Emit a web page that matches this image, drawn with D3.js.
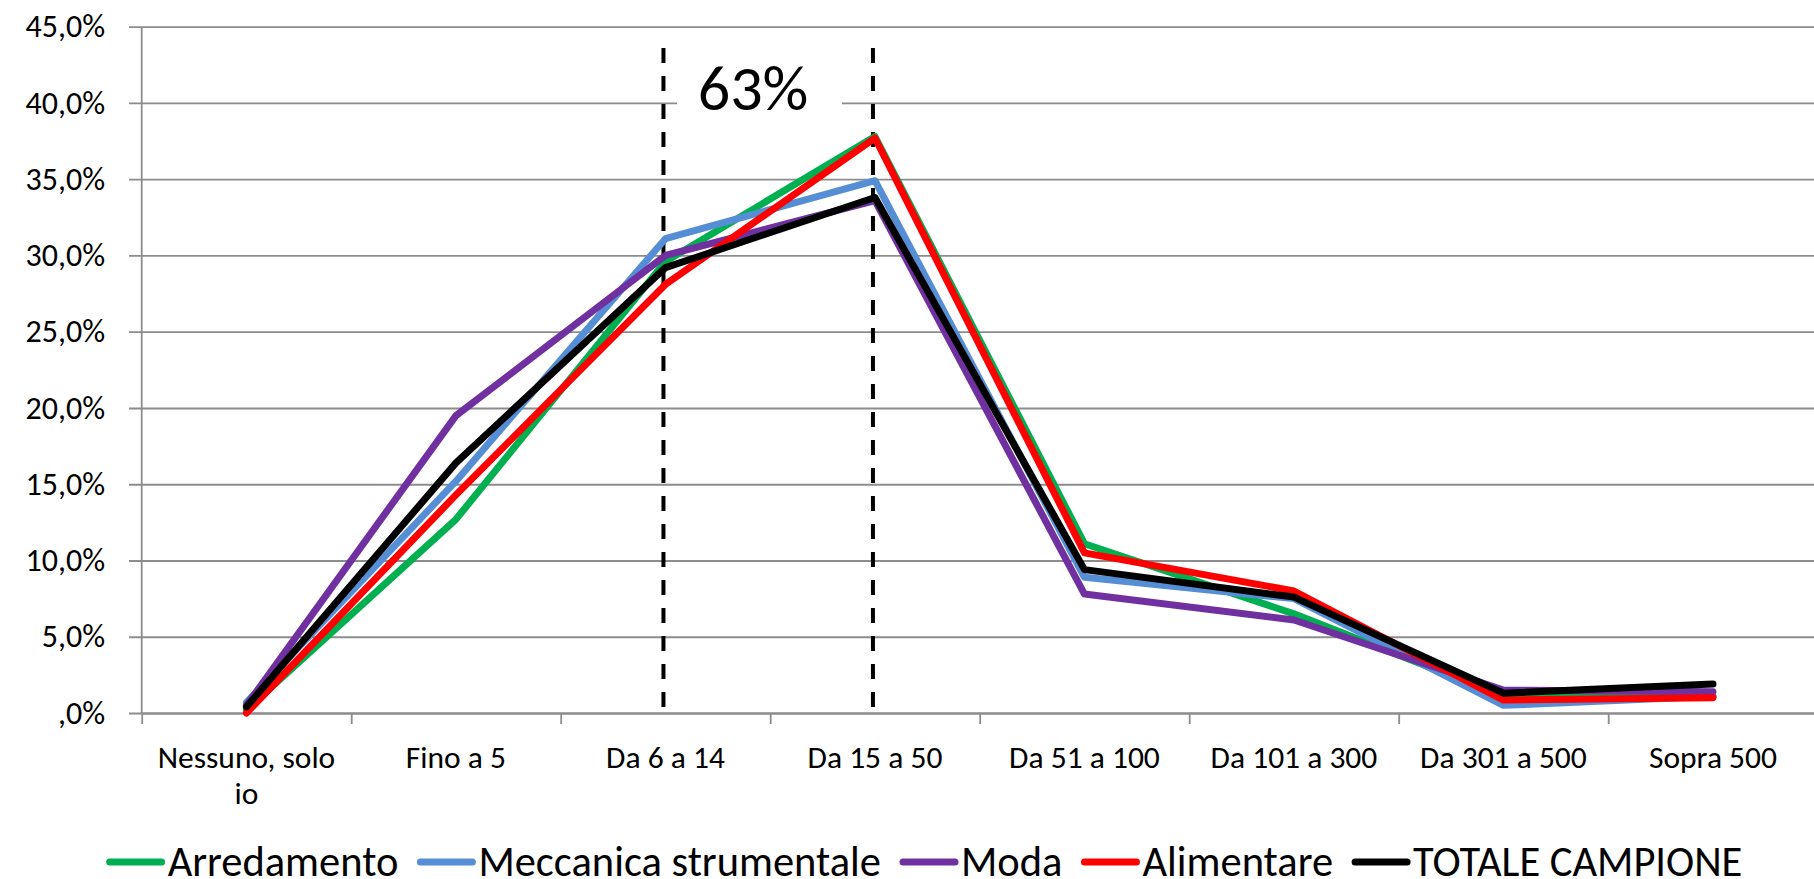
<!DOCTYPE html>
<html>
<head>
<meta charset="utf-8">
<script src="https://cdn.jsdelivr.net/npm/d3@7"></script>
<style>
  body { margin: 0; background: #fff; }
  svg text { font-family: Carlito, Lato, "Open Sans", sans-serif; fill: #000; }
</style>
</head>
<body>
<div id="chart"></div>
<script>
// categories (number of employees) and series values, in %
const categories = ["Nessuno, solo io", "Fino a 5", "Da 6 a 14", "Da 15 a 50",
  "Da 51 a 100", "Da 101 a 300", "Da 301 a 500", "Sopra 500"];

const arredamento = [0.2, 12.7, 29.6, 37.8, 11.1, 6.5, 1.1, 1.1];
const meccanica   = [0.7, 15.2, 31.1, 34.9, 8.9, 7.5, 0.5, 1.1];
const moda        = [0.5, 19.5, 30.0, 33.6, 7.8, 6.1, 1.5, 1.4];
const alimentare  = [0.0, 14.3, 28.1, 37.7, 10.5, 8.0, 0.85, 1.0];
const totale      = [0.4, 16.4, 29.2, 33.8, 9.4, 7.6, 1.3, 1.9];

const seriesNames = ["Arredamento", "Meccanica strumentale", "Moda", "Alimentare", "TOTALE CAMPIONE"];
const seriesValues = [arredamento, meccanica, moda, alimentare, totale];
const seriesColors = ["#00B050", "#558ED5", "#7030A0", "#FF0000", "#000000"];

const yTickValues = [0, 5, 10, 15, 20, 25, 30, 35, 40, 45];
const yTickLabels = [",0%", "5,0%", "10,0%", "15,0%", "20,0%", "25,0%", "30,0%", "35,0%", "40,0%", "45,0%"];

// bracket around the 6-50 employees range
const bracketCats = ["Da 6 a 14", "Da 15 a 50"];
const bracketLabel = "63%";

const svgWidth = 1814;
const svgHeight = 879;

const margin = { top: 26.7, left: 141.7, bottom: 166 };
const bandW = 209.5;
const plotBottom = svgHeight - margin.bottom;   // 713
const plotRight = margin.left + bandW * categories.length;

const svg = d3.select("#chart")
  .append("svg")
  .attr("width", svgWidth)
  .attr("height", svgHeight);

const x = d3.scaleBand()
  .domain(categories)
  .range([margin.left, plotRight]);

const y = d3.scaleLinear()
  .domain([0, 45])
  .range([plotBottom, margin.top]);

const xc = c => x(c) + x.bandwidth() / 2;

// y gridlines + labels
const yAxis = svg.append("g")
  .attr("transform", `translate(${margin.left - 12.7},0)`)
  .call(d3.axisLeft(y)
    .tickValues(yTickValues)
    .tickFormat((d, i) => yTickLabels[i])
    .tickSize(-(svgWidth - margin.left + 20))
    .tickPadding(24));
yAxis.select(".domain").remove();
yAxis.selectAll(".tick line").attr("stroke", "#8c8c8c").attr("stroke-width", 1.8);
yAxis.selectAll(".tick text").attr("font-size", 32);

// vertical axis line
svg.append("line")
  .attr("x1", margin.left).attr("x2", margin.left)
  .attr("y1", margin.top).attr("y2", plotBottom)
  .attr("stroke", "#8c8c8c").attr("stroke-width", 1.8);

// x axis line + tick marks at band edges
const xEdge = d3.scaleLinear().domain([0, categories.length]).range([margin.left, plotRight]);
const xAxis = svg.append("g")
  .attr("transform", `translate(0,${plotBottom})`)
  .call(d3.axisBottom(xEdge)
    .tickValues(d3.range(0, categories.length + 1))
    .tickFormat("")
    .tickSizeInner(11)
    .tickSizeOuter(0));
xAxis.selectAll("path, line").attr("stroke", "#8c8c8c").attr("stroke-width", 1.8);

// category labels
const xLabels = svg.append("g")
  .attr("transform", `translate(0,${plotBottom})`)
  .call(d3.axisBottom(x).tickSize(0).tickPadding(33));
xLabels.select(".domain").remove();
xLabels.selectAll(".tick text")
  .attr("font-size", 31.5)
  .each(function (d) {
    const t = d3.select(this);
    const words = d.split(" ");
    t.text(null);
    let line = [];
    let tspan = t.append("tspan").attr("x", 0).attr("dy", "0.71em");
    words.forEach(w => {
      line.push(w);
      tspan.text(line.join(" "));
      if (tspan.node().getComputedTextLength() > bandW - 8 && line.length > 1) {
        line.pop();
        tspan.text(line.join(" "));
        line = [w];
        tspan = t.append("tspan").attr("x", 0).attr("dy", 36).text(w);
      }
    });
  });

// dashed bracket lines
svg.selectAll(".bracket")
  .data(bracketCats)
  .join("line")
  .attr("class", "bracket")
  .attr("x1", d => xc(d) - 2).attr("x2", d => xc(d) - 2)
  .attr("y1", 48).attr("y2", plotBottom)
  .attr("stroke", "#000")
  .attr("stroke-width", 4)
  .attr("stroke-dasharray", "15,13");

svg.append("rect")
  .attr("x", 677).attr("y", 60)
  .attr("width", 165).attr("height", 62)
  .attr("fill", "#fff");

svg.append("text")
  .attr("x", 753).attr("y", 110)
  .attr("text-anchor", "middle")
  .attr("font-size", 64)
  .text(bracketLabel);

// series lines
const line = d3.line()
  .x((d, i) => xc(categories[i]))
  .y(d => y(d));

svg.selectAll(".series")
  .data(seriesValues)
  .join("path")
  .attr("class", "series")
  .attr("d", d => line(d))
  .attr("fill", "none")
  .attr("stroke", (d, i) => seriesColors[i])
  .attr("stroke-width", 7)
  .attr("stroke-linejoin", "round")
  .attr("stroke-linecap", "round");

// legend
const legend = svg.append("g");
let cursor = 0;
seriesNames.forEach((name, i) => {
  const g = legend.append("g");
  g.append("line")
    .attr("x1", 4).attr("x2", 56)
    .attr("stroke", seriesColors[i])
    .attr("stroke-width", 7)
    .attr("stroke-linecap", "round");
  const t = g.append("text")
    .attr("x", 62).attr("y", 14)
    .attr("font-size", 42.5)
    .text(name);
  const w = 62 + t.node().getComputedTextLength();
  g.attr("transform", `translate(${cursor},0)`);
  cursor += w + 18;
});
const totalW = cursor - 18;
legend.attr("transform", `translate(${924 - totalW / 2},862)`);
</script>
</body>
</html>
